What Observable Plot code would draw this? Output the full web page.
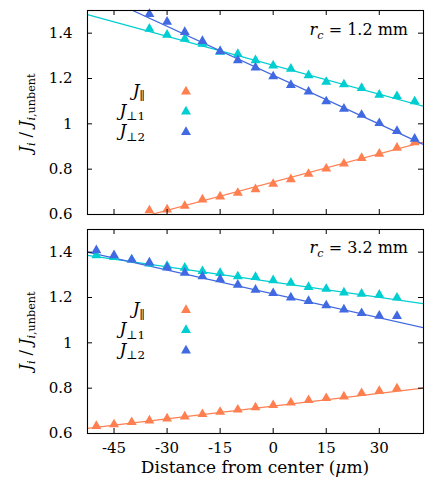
<!DOCTYPE html>
<html><head><meta charset="utf-8">
<script src="https://cdn.jsdelivr.net/npm/d3@7"></script>
<script src="https://cdn.jsdelivr.net/npm/@observablehq/plot@0.6"></script>
<style>
html,body{margin:0;padding:0;background:#fff;}
#chart{position:relative;width:436px;height:487px;}
#chart > div{position:absolute;left:0;}
</style></head><body><div id="chart"></div>
<script>
// ---- data ----
const xTicks = [-45, -30, -15, 0, 15, 30];
const yTicks = [0.6, 0.8, 1, 1.2, 1.4];
const xDomain = [-52.5, 42.5];
const yDomain = [0.6, 1.5];
const seriesNames = ["par", "perp1", "perp2"];
const seriesColors = ["#ff7f50", "#00ced1", "#4169e1"];
const fitX = [-52.5, 42.5];

// r_c = 1.2 mm
const topX = [-35, -30, -25, -20, -15, -10, -5, 0, 5, 10, 15, 20, 25, 30, 35, 40];
const topPar = [0.618, 0.622, 0.638, 0.666, 0.679, 0.695, 0.711, 0.735, 0.755, 0.779, 0.802, 0.824, 0.849, 0.868, 0.894, 0.918];
const topPerp1 = [1.419, 1.393, 1.375, 1.353, 1.318, 1.308, 1.280, 1.257, 1.243, 1.214, 1.185, 1.174, 1.158, 1.128, 1.122, 1.099];
const topPerp2 = [1.484, 1.450, 1.405, 1.365, 1.320, 1.280, 1.248, 1.209, 1.171, 1.142, 1.099, 1.066, 1.039, 1.003, 0.968, 0.934];
const topFitPar = [0.525, 0.920];
const topFitPerp1 = [1.482, 1.077];
const topFitPerp2 = [1.592, 0.909];

// r_c = 3.2 mm
const botX = [-50, -45, -40, -35, -30, -25, -20, -15, -10, -5, 0, 5, 10, 15, 20, 25, 30, 35];
const botPar = [0.633, 0.640, 0.650, 0.657, 0.666, 0.675, 0.685, 0.695, 0.705, 0.715, 0.725, 0.736, 0.747, 0.756, 0.763, 0.778, 0.788, 0.799];
const botPerp1 = [1.386, 1.378, 1.367, 1.350, 1.339, 1.331, 1.316, 1.308, 1.293, 1.290, 1.276, 1.265, 1.246, 1.238, 1.222, 1.216, 1.212, 1.199];
const botPerp2 = [1.408, 1.386, 1.367, 1.354, 1.332, 1.309, 1.293, 1.280, 1.256, 1.234, 1.219, 1.200, 1.184, 1.165, 1.147, 1.131, 1.119, 1.118];
const botFitPar = [0.623, 0.800];
const botFitPerp1 = [1.386, 1.173];
const botFitPerp2 = [1.400, 1.067];

// ---- layout ----
const FONT = "DejaVu Serif";
const W = 436, ML = 87, MR = 13;
const R = 3.7;

function rowsOf(xs, ys, name) { return xs.map((x, i) => ({x, y: ys[i], s: name})); }

function makePanel({xs, ys, fits, height, mt, mb, xAxis}) {
  const innerW = W - ML - MR, innerH = height - mt - mb;
  const pts = ys.flatMap((arr, k) => rowsOf(xs, arr, seriesNames[k]));
  const fitRows = fits.flatMap((arr, k) => rowsOf(fitX, arr, seriesNames[k]));
  const marks = [
    Plot.line(fitRows, {x: "x", y: "y", z: "s", stroke: "s", strokeWidth: 1.2, clip: true}),
    Plot.dot(pts, {x: "x", y: "y", fill: "s", symbol: "triangle", r: R, stroke: "none"}),
    Plot.tickX(xTicks, {x: d => d, insetTop: innerH - 5, stroke: "#000"}),
    Plot.tickX(xTicks, {x: d => d, insetBottom: innerH - 5, stroke: "#000"}),
    Plot.tickY(yTicks, {y: d => d, insetRight: innerW - 5, stroke: "#000"}),
    Plot.tickY(yTicks, {y: d => d, insetLeft: innerW - 5, stroke: "#000"}),
    Plot.frame({stroke: "#000", strokeWidth: 1.1}),
    Plot.axisY(yTicks, {tickSize: 0, tickPadding: 15, tickFormat: d => String(d), fontSize: 15, fontFamily: FONT, label: null})
  ];
  if (xAxis) marks.push(Plot.axisX(xTicks, {tickSize: 0, tickPadding: 9, tickFormat: d => String(d), fontSize: 15, fontFamily: FONT, label: null}));
  return Plot.plot({
    width: W, height, marginLeft: ML, marginRight: MR, marginTop: mt, marginBottom: mb,
    x: xAxis ? {domain: xDomain, label: null} : {domain: xDomain, axis: null, label: null},
    y: {domain: yDomain, label: null},
    color: {domain: seriesNames, range: seriesColors},
    style: {fontFamily: FONT, fontSize: "15px", color: "#000", background: "#fff", overflow: "visible"},
    marks
  });
}

function richText(g, x, y, parts, {anchor = "start", size = 16, rotate = null} = {}) {
  const t = g.append("text").attr("x", x).attr("y", y).attr("text-anchor", anchor)
    .attr("font-family", FONT).attr("font-size", size).attr("fill", "#000");
  if (rotate != null) t.attr("transform", `rotate(${rotate},${x},${y})`);
  let shift = 0;
  for (const p of parts) {
    const ts = t.append("tspan").text(p.t);
    if (p.italic) ts.attr("font-style", "italic");
    const target = p.sub ? size * 0.28 : 0;
    if (target !== shift) { ts.attr("dy", target - shift); shift = target; }
    if (p.sub) ts.attr("font-size", size * 0.7);
  }
  return t;
}

const legendLabels = [
  [{t: "J", italic: true}, {t: "\u2225", sub: true}],
  [{t: "J", italic: true}, {t: "\u22A51", sub: true}],
  [{t: "J", italic: true}, {t: "\u22A52", sub: true}]
];
const yLabelParts = [
  {t: "J", italic: true}, {t: "i", italic: true, sub: true}, {t: " / "},
  {t: "J", italic: true}, {t: "i", italic: true, sub: true}, {t: ",unbent", sub: true}
];

function decorate(svg, {rc, legendY, yLabelY, rcY, xLabelY}) {
  const g = d3.select(svg).append("g");
  // r_c annotation
  richText(g, 408, rcY, [{t: "r", italic: true}, {t: "c", italic: true, sub: true}, {t: " = " + rc + " mm"}], {anchor: "end", size: 16});
  // legend
  legendY.forEach((yy, k) => {
    richText(g, 145, yy + 4, legendLabels[k], {anchor: "end", size: 17});
    g.append("path")
      .attr("d", d3.symbol(d3.symbolTriangle, Math.PI * R * R)())
      .attr("transform", `translate(186,${yy})`)
      .attr("fill", seriesColors[k]);
  });
  // y label
  richText(g, 31, yLabelY, yLabelParts, {anchor: "middle", size: 16, rotate: -90});
  if (xLabelY != null) {
    richText(g, 255, xLabelY, [{t: "Distance from center ("}, {t: "\u03BC", italic: true}, {t: "m)"}], {anchor: "middle", size: 17});
  }
}

const chart = document.getElementById("chart");

const topSvg = makePanel({xs: topX, ys: [topPar, topPerp1, topPerp2], fits: [topFitPar, topFitPerp1, topFitPerp2], height: 222, mt: 10, mb: 8, xAxis: false});
decorate(topSvg, {rc: "1.2", legendY: [91.5, 111.5, 132], yLabelY: 113, rcY: 35});
const d1 = document.createElement("div"); d1.style.top = "0px"; d1.appendChild(topSvg); chart.appendChild(d1);

const botSvg = makePanel({xs: botX, ys: [botPar, botPerp1, botPerp2], fits: [botFitPar, botFitPerp1, botFitPerp2], height: 265, mt: 7, mb: 54, xAxis: true});
decorate(botSvg, {rc: "3.2", legendY: [88, 108, 128.5], yLabelY: 109, rcY: 31, xLabelY: 251});
const d2 = document.createElement("div"); d2.style.top = "222px"; d2.appendChild(botSvg); chart.appendChild(d2);
</script></body></html>
